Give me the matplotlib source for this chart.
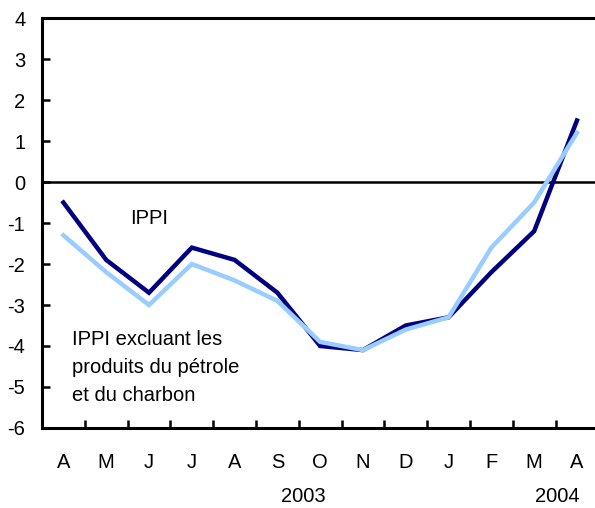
import matplotlib
matplotlib.use("Agg")
import matplotlib.pyplot as plt
import matplotlib.transforms as mtransforms

months = ["A", "M", "J", "J", "A", "S", "O", "N", "D", "J", "F", "M", "A"]
ippi = [-0.5, -1.9, -2.7, -1.6, -1.9, -2.7, -4.0, -4.1, -3.5, -3.3, -2.2, -1.2, 1.5]
ippi_excl = [-1.3, -2.2, -3.0, -2.0, -2.4, -2.9, -3.9, -4.1, -3.6, -3.3, -1.6, -0.5, 1.2]
years = ["2003", "2004"]
year_pos = [5.6, 11.55]
yticks = [-6, -5, -4, -3, -2, -1, 0, 1, 2, 3, 4]
label_excl = ["IPPI excluant les", "produits du pétrole", "et du charbon"]

plt.rcParams['font.family'] = ['Liberation Sans', 'DejaVu Sans']
FS = 14.5

fig = plt.figure(figsize=(5.95, 5.08), dpi=100)
ax = fig.add_axes([0.0706, 0.1575, 0.935, 0.807])

x = list(range(len(months)))
ax.plot(x, ippi, color="#000080", lw=3.2, solid_joinstyle="miter", zorder=3)
ax.plot(x, ippi_excl, color="#99CCFF", lw=3.2, solid_joinstyle="miter", zorder=4)
ax.axhline(0, color="black", lw=1.8, zorder=2)

ax.set_xlim(-0.5, 12.5)
ax.set_ylim(-6, 4)
ax.set_yticks(yticks)
ax.set_yticklabels([str(v) for v in yticks])
ax.set_xticks([i + 0.5 for i in range(len(months) - 1)], minor=False)
ax.set_xticklabels([])
ax.set_xticks(x, minor=True)
ax.set_xticklabels(months, minor=True)

ax.tick_params(axis="y", direction="in", length=6, width=1.8, pad=12, labelsize=FS)
ax.tick_params(axis="x", which="major", direction="in", length=6, width=1.8)
ax.tick_params(axis="x", which="minor", length=0, pad=18, labelsize=FS)

for s in ["left", "bottom", "top"]:
    ax.spines[s].set_linewidth(2.2)
ax.spines["right"].set_visible(False)

trans = mtransforms.blended_transform_factory(ax.transData, ax.transAxes)
for yr, p in zip(years, year_pos):
    ax.text(p, -0.166, yr, transform=trans, ha="center", va="center", fontsize=FS)

ax.text(2.0, -0.9, "IPPI", ha="center", va="center", fontsize=FS)
for i, line in enumerate(label_excl):
    ax.text(0.2, -3.98 - 0.68 * i, line, ha="left", va="baseline", fontsize=FS)

fig.savefig("out.png", dpi=100)
